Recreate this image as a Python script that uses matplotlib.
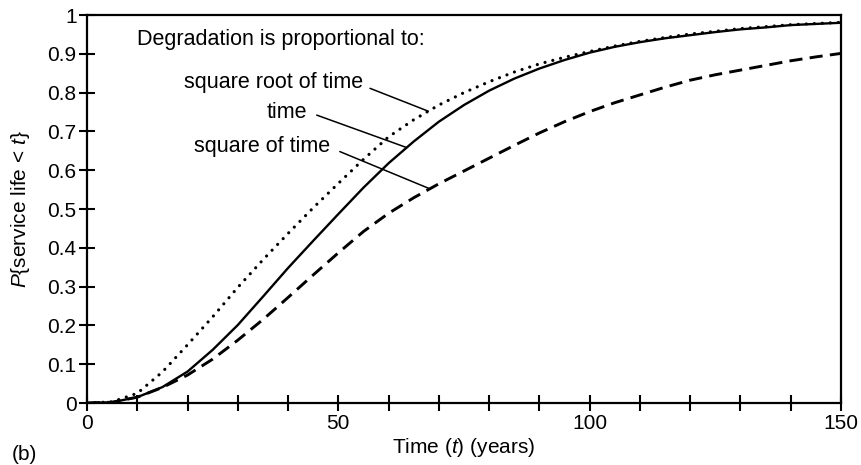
import numpy as np
import matplotlib
matplotlib.use('Agg')
import matplotlib.pyplot as plt

# Fonts: Helvetica-like look
plt.rcParams['font.family'] = ['Liberation Sans', 'DejaVu Sans']
plt.rcParams['mathtext.fontset'] = 'custom'
plt.rcParams['mathtext.rm'] = 'Liberation Sans'
plt.rcParams['mathtext.it'] = 'Liberation Sans:italic'

# Values (years, probability)
years = [0, 5, 10, 15, 20, 25, 30, 35, 40, 45, 50, 55, 60, 65, 70, 75,
         80, 85, 90, 95, 100, 105, 110, 115, 120, 125, 130, 135, 140, 145, 150]
p_sqrt = [0, 0.003, 0.025, 0.080, 0.150, 0.222, 0.298, 0.369, 0.437, 0.503,
          0.566, 0.628, 0.686, 0.730, 0.768, 0.800, 0.828, 0.853, 0.874, 0.891,
          0.906, 0.920, 0.932, 0.942, 0.951, 0.958, 0.965, 0.970, 0.975, 0.978, 0.981]
p_time = [0, 0.002, 0.015, 0.041, 0.081, 0.137, 0.201, 0.274, 0.348, 0.418,
          0.487, 0.555, 0.618, 0.674, 0.725, 0.768, 0.805, 0.836, 0.862, 0.884,
          0.903, 0.918, 0.930, 0.940, 0.948, 0.956, 0.963, 0.968, 0.974, 0.977, 0.980]
p_square = [0, 0.002, 0.015, 0.040, 0.072, 0.113, 0.162, 0.215, 0.272, 0.330,
            0.387, 0.442, 0.489, 0.529, 0.565, 0.598, 0.631, 0.664, 0.696, 0.725,
            0.751, 0.774, 0.794, 0.814, 0.832, 0.846, 0.858, 0.870, 0.882, 0.892, 0.901]

x_ticks = list(range(0, 151, 10))
x_ticklabels = [str(v) if v % 50 == 0 else '' for v in x_ticks]
y_ticks = [round(0.1 * i, 1) for i in range(11)]
y_ticklabels = ['0', '0.1', '0.2', '0.3', '0.4', '0.5', '0.6', '0.7', '0.8', '0.9', '1']

fig = plt.figure(figsize=(8.62, 4.65), dpi=100)
ax = fig.add_axes([87 / 862, 62 / 465, 754 / 862, 388 / 465])

ax.plot(years, p_sqrt, color='black', lw=2.3, linestyle=(0, (0.01, 2.5)),
        dash_capstyle='round')
ax.plot(years, p_time, color='black', lw=1.7)
ax.plot(years, p_square, color='black', lw=2.1, dashes=[4.5, 2.5])

ax.set_xlim(0, 150)
ax.set_ylim(0, 1)
ax.set_xticks(x_ticks)
ax.set_xticklabels(x_ticklabels)
ax.set_yticks(y_ticks)
ax.set_yticklabels(y_ticklabels)
ax.tick_params(axis='x', direction='inout', length=12, width=1.5, pad=2, labelsize=15)
ax.tick_params(axis='y', direction='inout', length=12, width=1.5, pad=1.5, labelsize=15)
for sp in ax.spines.values():
    sp.set_linewidth(1.6)

ax.set_xlabel(r'Time ($t$) (years)', fontsize=15)
ax.xaxis.set_label_coords(0.5, -0.085)
ax.set_ylabel(r'$P${service life < $t$}', fontsize=15)
ax.yaxis.set_label_coords(-0.073, 0.5)

# Annotation text and leader lines
ax.text(9.9, 0.936, 'Degradation is proportional to:', fontsize=15.5, va='center')
labels = ['square root of time', 'time', 'square of time']
series = [p_sqrt, p_time, p_square]
text_pos = [(54.9, 0.827), (43.8, 0.750), (48.3, 0.660)]
leader_start = [(56.3, 0.811), (45.7, 0.742), (50.3, 0.648)]
leader_t = [67.9, 63.6, 68.2]
for lab, s, tp, ls, lt in zip(labels, series, text_pos, leader_start, leader_t):
    ax.text(tp[0], tp[1], lab, fontsize=15.5, ha='right', va='center')
    ax.annotate('', xy=(lt, np.interp(lt, years, s)), xytext=ls,
                arrowprops=dict(arrowstyle='-', lw=1.1, color='black',
                                shrinkA=0, shrinkB=0))

fig.text(12 / 862, 1 / 465, '(b)', fontsize=15, va='bottom')

fig.savefig('out.png', dpi=100)
